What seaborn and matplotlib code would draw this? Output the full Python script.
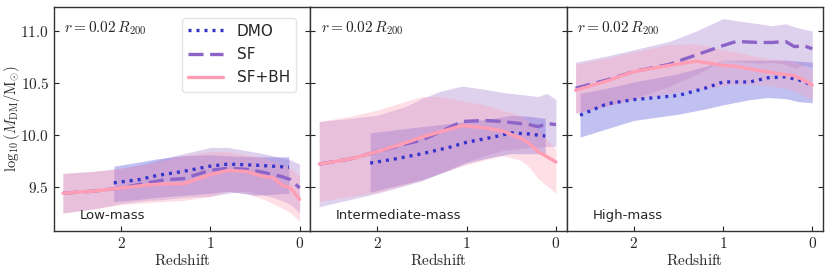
"""Central dark matter mass vs redshift for three halo mass bins."""

import matplotlib

matplotlib.use("Agg")
import matplotlib.pyplot as plt
import pandas as pd
import seaborn as sns
from matplotlib.ticker import FuncFormatter

# ---- data ----
panel_names = ["Low-mass", "Intermediate-mass", "High-mass"]
sim_names = ["DMO", "SF", "SF+BH"]

# low-mass
low_dmo_z = [2.08, 1.8, 1.6, 1.3, 1.0, 0.8, 0.5, 0.3, 0.12]
low_dmo_med = [9.54, 9.57, 9.61, 9.65, 9.70, 9.72, 9.71, 9.70, 9.69]
low_dmo_hi = [9.70, 9.74, 9.77, 9.80, 9.81, 9.80, 9.79, 9.79, 9.79]
low_dmo_lo = [9.36, 9.38, 9.40, 9.42, 9.44, 9.46, 9.42, 9.43, 9.44]

low_z = [2.65, 2.3, 2.0, 1.7, 1.5, 1.3, 1.0, 0.8, 0.6, 0.4, 0.3, 0.2, 0.1, 0.0]
low_sf_med = [9.44, 9.46, 9.49, 9.54, 9.57, 9.58, 9.66, 9.68, 9.67, 9.64, 9.62, 9.60, 9.57, 9.49]
low_sf_hi = [9.63, 9.65, 9.68, 9.73, 9.78, 9.82, 9.88, 9.88, 9.85, 9.82, 9.80, 9.78, 9.76, 9.72]
low_sf_lo = [9.25, 9.29, 9.34, 9.37, 9.38, 9.40, 9.41, 9.44, 9.46, 9.42, 9.40, 9.37, 9.33, 9.25]
low_bh_med = [9.44, 9.46, 9.49, 9.52, 9.53, 9.53, 9.62, 9.66, 9.65, 9.60, 9.59, 9.52, 9.49, 9.38]
low_bh_hi = [9.63, 9.65, 9.68, 9.72, 9.76, 9.80, 9.84, 9.84, 9.81, 9.78, 9.75, 9.72, 9.68, 9.60]
low_bh_lo = [9.25, 9.29, 9.33, 9.35, 9.36, 9.37, 9.41, 9.46, 9.44, 9.38, 9.34, 9.30, 9.25, 9.17]

# intermediate-mass
mid_dmo_z = [2.08, 1.8, 1.5, 1.2, 1.0, 0.7, 0.5, 0.3, 0.12]
mid_dmo_med = [9.73, 9.77, 9.82, 9.88, 9.93, 9.98, 10.02, 10.01, 9.99]
mid_dmo_hi = [10.02, 10.05, 10.08, 10.11, 10.13, 10.16, 10.19, 10.18, 10.16]
mid_dmo_lo = [9.45, 9.51, 9.57, 9.66, 9.73, 9.79, 9.82, 9.82, 9.82]

mid_z = [2.65, 2.3, 2.0, 1.7, 1.5, 1.3, 1.05, 0.8, 0.6, 0.4, 0.3, 0.2, 0.1, 0.0]
mid_sf_med = [9.72, 9.77, 9.84, 9.91, 9.95, 10.03, 10.13, 10.14, 10.13, 10.11, 10.10, 10.08, 10.11, 10.10]
mid_sf_hi = [10.13, 10.16, 10.19, 10.27, 10.35, 10.42, 10.47, 10.44, 10.41, 10.39, 10.38, 10.37, 10.40, 10.34]
mid_sf_lo = [9.31, 9.38, 9.44, 9.51, 9.56, 9.63, 9.73, 9.80, 9.85, 9.87, 9.88, 9.88, 9.89, 9.89]
mid_bh_med = [9.72, 9.77, 9.84, 9.92, 9.98, 10.03, 10.09, 10.07, 10.04, 9.97, 9.92, 9.84, 9.79, 9.74]
mid_bh_hi = [10.13, 10.18, 10.24, 10.32, 10.37, 10.37, 10.33, 10.29, 10.24, 10.19, 10.13, 10.05, 9.95, 9.86]
mid_bh_lo = [9.36, 9.41, 9.45, 9.52, 9.57, 9.63, 9.70, 9.76, 9.80, 9.76, 9.69, 9.58, 9.51, 9.44]

# high-mass
high_dmo_z = [2.6, 2.3, 2.0, 1.5, 1.2, 1.0, 0.7, 0.5, 0.3, 0.15, 0.0]
high_dmo_med = [10.19, 10.30, 10.34, 10.38, 10.45, 10.51, 10.51, 10.55, 10.56, 10.53, 10.48]
high_dmo_hi = [10.40, 10.45, 10.51, 10.59, 10.66, 10.72, 10.72, 10.72, 10.72, 10.71, 10.70]
high_dmo_lo = [9.98, 10.06, 10.14, 10.20, 10.25, 10.29, 10.34, 10.36, 10.35, 10.32, 10.31]

high_z = [2.65, 2.3, 2.0, 1.6, 1.3, 1.0, 0.85, 0.6, 0.45, 0.3, 0.2, 0.1, 0.0]
high_sf_med = [10.45, 10.53, 10.61, 10.68, 10.77, 10.86, 10.90, 10.89, 10.89, 10.90, 10.85, 10.86, 10.83]
high_sf_hi = [10.70, 10.76, 10.82, 10.90, 11.00, 11.12, 11.10, 11.07, 11.05, 11.07, 11.04, 11.02, 11.00]
high_sf_lo = [10.21, 10.28, 10.35, 10.47, 10.58, 10.72, 10.71, 10.69, 10.70, 10.68, 10.64, 10.67, 10.65]
high_bh_med = [10.43, 10.52, 10.61, 10.67, 10.71, 10.67, 10.66, 10.62, 10.60, 10.58, 10.57, 10.53, 10.48]
high_bh_hi = [10.68, 10.74, 10.80, 10.87, 10.88, 10.82, 10.80, 10.75, 10.73, 10.72, 10.70, 10.67, 10.63]
high_bh_lo = [10.21, 10.28, 10.34, 10.40, 10.44, 10.47, 10.49, 10.48, 10.47, 10.45, 10.42, 10.38, 10.34]

x_ticks = [2, 1, 0]
y_ticks = [9.5, 10.0, 10.5, 11.0]


def build_frame():
    """Stack the per-panel arrays into one long table."""
    rows = []
    panels = [
        (low_dmo_z, low_dmo_med, low_dmo_lo, low_dmo_hi,
         low_z, low_sf_med, low_sf_lo, low_sf_hi, low_bh_med, low_bh_lo, low_bh_hi),
        (mid_dmo_z, mid_dmo_med, mid_dmo_lo, mid_dmo_hi,
         mid_z, mid_sf_med, mid_sf_lo, mid_sf_hi, mid_bh_med, mid_bh_lo, mid_bh_hi),
        (high_dmo_z, high_dmo_med, high_dmo_lo, high_dmo_hi,
         high_z, high_sf_med, high_sf_lo, high_sf_hi, high_bh_med, high_bh_lo, high_bh_hi),
    ]
    for name, p in zip(panel_names, panels):
        dz, dm, dl, dh, z, sm, sl, sh, bm, bl, bh = p
        for series, zz, m, lo, hi in [
            ("DMO", dz, dm, dl, dh),
            ("SF", z, sm, sl, sh),
            ("SF+BH", z, bm, bl, bh),
        ]:
            for a, b, c, d in zip(zz, m, lo, hi):
                rows.append({"panel": name, "sim": series, "z": a, "med": b, "lo": c, "hi": d})
    return pd.DataFrame(rows)


sns.set_style("ticks")
plt.rcParams["font.family"] = ["DejaVu Sans"]
plt.rcParams["mathtext.fontset"] = "cm"

colors = {"DMO": "#3434cc", "SF": "#8c64c8", "SF+BH": "#ff9db4"}
band_colors = {"DMO": "#4040d4", "SF": "#9a70cc", "SF+BH": "#ff9db4"}
dashes = {"DMO": (0.9, 1.5), "SF": (4.5, 2.0), "SF+BH": ""}

frame = build_frame()

fig, axes = plt.subplots(1, 3, figsize=(8.3, 2.72), dpi=100, sharey=True)
fig.subplots_adjust(left=0.065, right=0.9916, top=0.976, bottom=0.151, wspace=0)

for ax, name in zip(axes, panel_names):
    sub = frame[frame["panel"] == name]
    for sim in sim_names:
        part = sub[sub["sim"] == sim]
        ax.fill_between(part["z"], part["lo"], part["hi"], color=band_colors[sim],
                        alpha=0.32, linewidth=0)
    sns.lineplot(data=sub, x="z", y="med", hue="sim", style="sim",
                 palette=colors, dashes=dashes, hue_order=sim_names,
                 style_order=sim_names, linewidth=2.4, ax=ax, legend=ax is axes[0],
                 estimator=None, sort=False)
    ax.set_xlim(2.75, -0.12)
    ax.set_ylim(9.077, 11.236)
    ax.set_xticks(x_ticks)
    ax.set_yticks(y_ticks)
    ax.xaxis.set_major_formatter(FuncFormatter(lambda v, _: r"$%d$" % v))
    ax.yaxis.set_major_formatter(FuncFormatter(lambda v, _: r"$%.1f$" % v))
    ax.tick_params(direction="in", right=True, labelsize=11, length=3.5)
    ax.set_xlabel(r"$\mathrm{Redshift}$", fontsize=11, labelpad=1)
    ax.set_ylabel("")
    ax.text(0.04, 0.905, r"$r = 0.02\, R_{200}$", transform=ax.transAxes, fontsize=11,
            va="center", ha="left")
    ax.text(0.1, 0.07, name, transform=ax.transAxes, fontsize=9.5, va="center", ha="left")
    for spine in ax.spines.values():
        spine.set_linewidth(1.0)
        spine.set_color("#333333")

axes[0].set_ylabel(r"$\log_{10}(M_{\rm DM}/{\rm M}_{\odot})$", fontsize=10.5)
axes[0].yaxis.set_label_coords(-0.125, 0.5)
leg = axes[0].legend(loc="upper right", fontsize=11, handlelength=2.3, frameon=True,
                     borderpad=0.4, labelspacing=0.55, handletextpad=0.9,
                     bbox_to_anchor=(0.975, 0.985))
leg.get_frame().set_edgecolor("#dddddd")
for line in leg.get_lines():
    line.set_linewidth(2.4)

fig.savefig("out.png", dpi=100)
